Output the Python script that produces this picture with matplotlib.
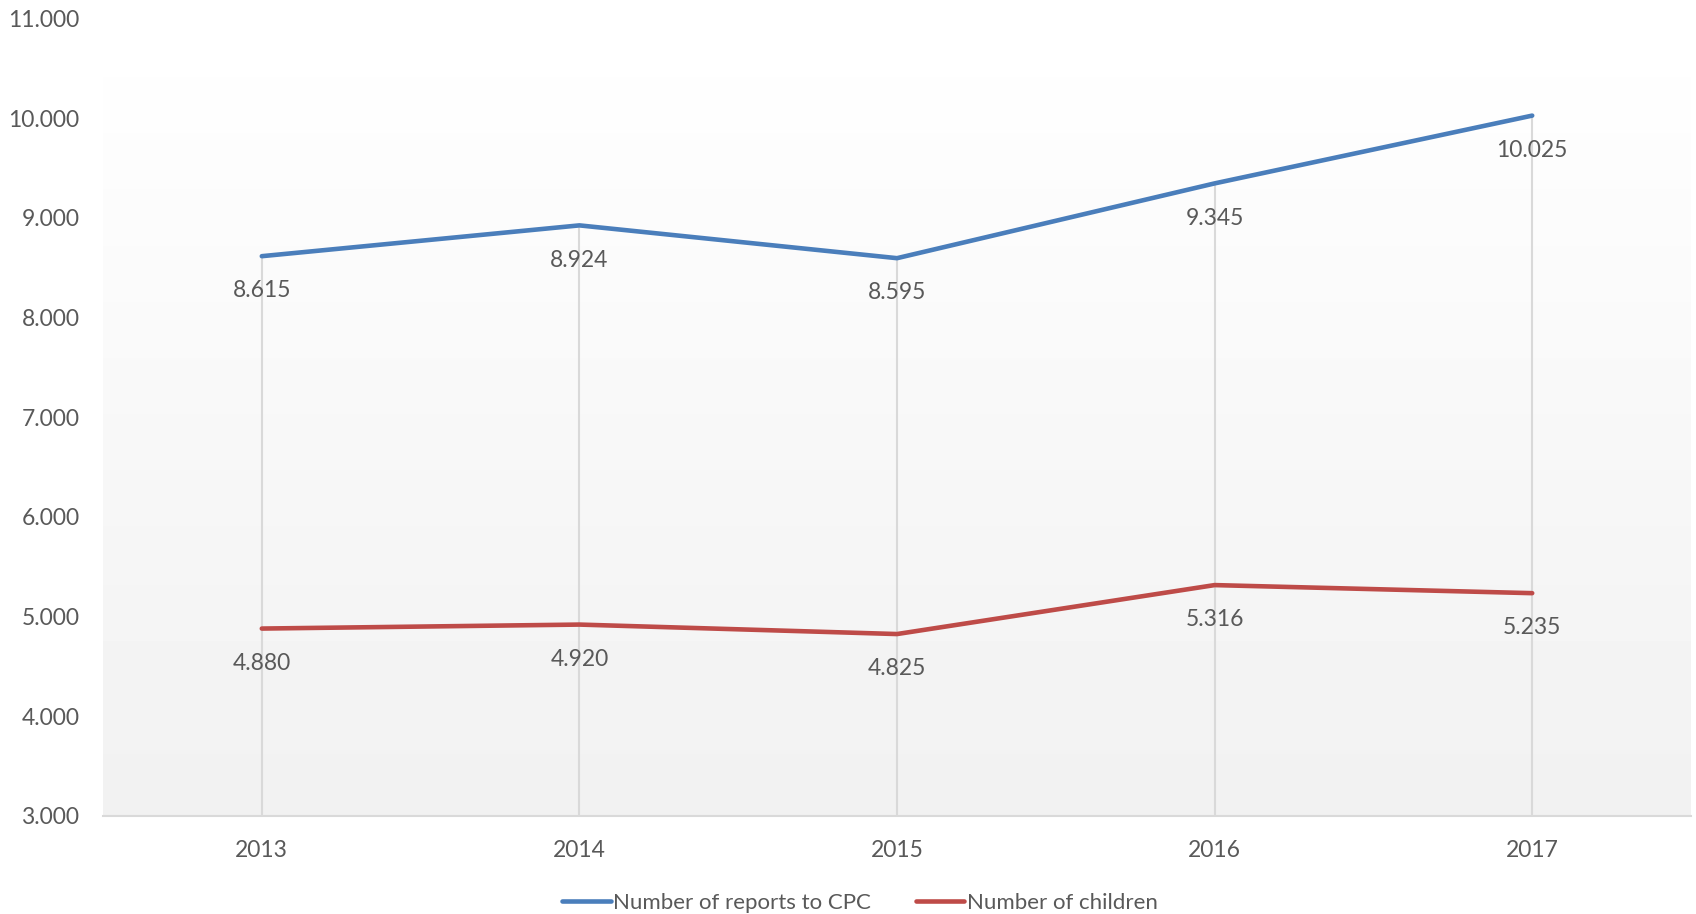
import matplotlib.pyplot as plt
import numpy as np
from matplotlib.ticker import FuncFormatter

years = ['2013', '2014', '2015', '2016', '2017']
reports = [8615, 8924, 8595, 9345, 10025]
children = [4880, 4920, 4825, 5316, 5235]

txt = '#595959'
plt.rcParams['font.family'] = ['Lato', 'DejaVu Sans']

fig = plt.figure(figsize=(16.96, 9.14), dpi=100)
ax = fig.add_axes([103 / 1696, 98 / 914, 1588 / 1696, 797.6 / 914])

x = np.arange(len(years))
ax.set_xlim(-0.5, 4.5)
ax.set_ylim(3000, 11000)

# gradient background, white at top to light grey at bottom
grad = np.linspace(1.0, 0.945, 256).reshape(-1, 1)
ax.imshow(grad, cmap='gray', vmin=0, vmax=1, aspect='auto',
          extent=[-0.5, 4.5, 3000, 11000], origin='upper', zorder=0)

# drop lines from the axis up to the highest point
tops = np.maximum(reports, children)
ax.vlines(x, 3000, tops, color='#d9d9d9', lw=1.5, zorder=1)

ax.plot(x, reports, color='#4a7ebb', lw=3.3, solid_capstyle='round', zorder=3,
        label='Number of reports to CPC')
ax.plot(x, children, color='#be4b48', lw=3.3, solid_capstyle='round', zorder=3,
        label='Number of children')

def fmt(v):
    return f'{v:,.0f}'.replace(',', '.')

for series in (reports, children):
    for xi, v in zip(x, series):
        ax.annotate(fmt(v), (xi, v), xytext=(0, -25), textcoords='offset points',
                    ha='center', va='center', fontsize=16.5, color=txt, zorder=4)

for s in ['top', 'right', 'left']:
    ax.spines[s].set_visible(False)
ax.spines['bottom'].set_color('#d9d9d9')
ax.spines['bottom'].set_linewidth(1.5)

ax.set_xticks(x)
ax.set_xticklabels(years)
ax.set_yticks(np.arange(3000, 11001, 1000))
ax.yaxis.set_major_formatter(FuncFormatter(lambda v, p: fmt(v)))
ax.tick_params(axis='both', length=0, labelsize=16.5, labelcolor=txt)
ax.tick_params(axis='y', pad=17)
ax.tick_params(axis='x', pad=17)

leg = fig.legend(loc='center', bbox_to_anchor=(0.507, 0.0125), ncol=2, frameon=False,
                 fontsize=16, labelcolor=txt, handlelength=2.2, handletextpad=0.1,
                 columnspacing=2.0)
for h in leg.get_lines():
    h.set_solid_capstyle('round')

fig.savefig('out.png', dpi=100)
